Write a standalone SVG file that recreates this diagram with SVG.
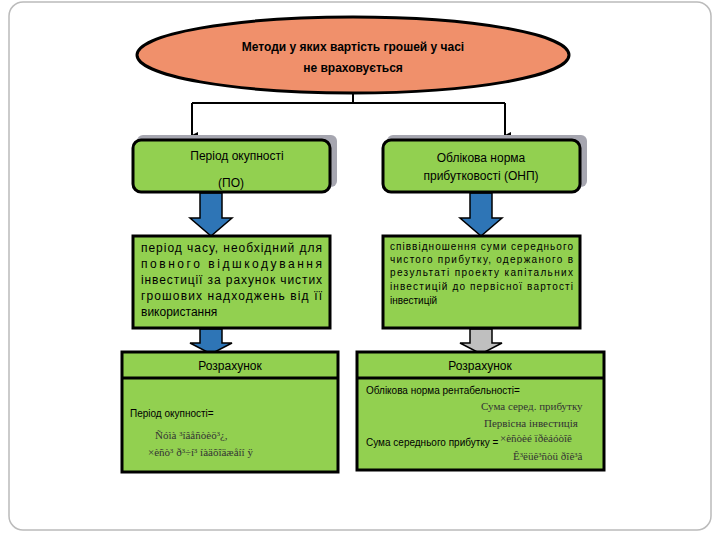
<svg xmlns="http://www.w3.org/2000/svg" width="720" height="540" viewBox="0 0 720 540">
<defs>
<marker id="ah" markerWidth="8" markerHeight="8" refX="4" refY="6" orient="auto" markerUnits="userSpaceOnUse"><path d="M0,0 L8,0 L4,8 z" fill="#000"/></marker>
<style>
.box{fill:#92D050;stroke:#000;stroke-width:3}
.sh{fill:#A6A6B0}
.t{font-family:"Liberation Sans",Arial,sans-serif;font-size:12px;fill:#000}
.s{font-family:"Liberation Sans",Arial,sans-serif;font-size:10px;fill:#000}
.r{font-family:"Liberation Serif","Times New Roman",serif;font-size:11px;fill:#333}
</style>
</defs>
<rect width="720" height="540" fill="#fff"/>
<rect x="9" y="2" width="702" height="528" rx="14" fill="none" stroke="#bbb" stroke-width="1.5"/>
<g id="connectors" fill="none" stroke="#000" stroke-width="2">
<path d="M353,93 V103 M192,103 H505"/>
<path d="M192,103 V136" marker-end="url(#ah)"/>
<path d="M505,103 V136" marker-end="url(#ah)"/>
<path d="M200,193 V218 H190 L211,236 L232,218 H222 V193 Z" fill="#2E75B6" stroke="#000" stroke-width="1.5"/>
<path d="M470,193 V218 H460 L481,236 L502,218 H492 V193 Z" fill="#2E75B6" stroke="#000" stroke-width="1.5"/>
<path d="M200,329 V343 H190 L211,354 L232,343 H222 V329 Z" fill="#2E75B6" stroke="#000" stroke-width="1.5"/>
<path d="M470,329 V343 H460 L481,354 L502,343 H492 V329 Z" fill="#BFBFBF" stroke="#000" stroke-width="1.5"/>
</g>
<g id="top">
<ellipse cx="353" cy="55" rx="216" ry="38" fill="#F0906B" stroke="#000" stroke-width="3"/>
<text x="353" y="51" text-anchor="middle" class="t" font-weight="bold" font-size="13">Методи у яких  вартість грошей у часі</text>
<text x="353" y="72" text-anchor="middle" class="t" font-weight="bold" font-size="13">не враховується</text>
</g>
<g id="n1">
<rect x="137" y="135" width="200" height="52" rx="6" class="sh"/>
<rect x="133" y="140" width="197" height="52" rx="8" class="box"/>
<text x="237" y="160" text-anchor="middle" class="t">Період окупності</text>
<text x="231" y="187" text-anchor="middle" class="t">(ПО)</text>
</g>
<g id="n2">
<rect x="387" y="135" width="200" height="52" rx="6" class="sh"/>
<rect x="383" y="140" width="197" height="52" rx="8" class="box"/>
<text x="481" y="162" text-anchor="middle" class="t">Облікова норма</text>
<text x="481" y="180" text-anchor="middle" class="t">прибутковості (ОНП)</text>
</g>
<g id="n3">
<rect x="133" y="236" width="197" height="92" class="box"/>
<text class="t" font-size="11.5"><tspan x="141" y="252" textLength="181" lengthAdjust="spacing">період  часу,  необхідний  для</tspan><tspan x="141" y="268" textLength="181" lengthAdjust="spacing">повного          відшкодування</tspan><tspan x="141" y="284" textLength="181" lengthAdjust="spacing">інвестиції за рахунок чистих</tspan><tspan x="141" y="300" textLength="181" lengthAdjust="spacing">грошових надходжень від її</tspan><tspan x="141" y="316">використання</tspan></text>
</g>
<g id="n4">
<rect x="383" y="236" width="197" height="92" class="box"/>
<text class="s" font-size="9"><tspan x="390" y="250" textLength="183" lengthAdjust="spacing">співвідношення    суми    середнього</tspan><tspan x="390" y="263" textLength="183" lengthAdjust="spacing">чистого  прибутку,  одержаного  в</tspan><tspan x="390" y="276" textLength="183" lengthAdjust="spacing">результаті   проекту   капітальних</tspan><tspan x="390" y="290" textLength="183" lengthAdjust="spacing">інвестицій  до  первісної  вартості</tspan><tspan x="390" y="304">інвестицій</tspan></text>
</g>
<g id="n5">
<rect x="122" y="352" width="216" height="120" class="box"/>
<line x1="122" y1="378" x2="338" y2="378" stroke="#000" stroke-width="3"/>
<text x="230" y="370" text-anchor="middle" class="t">Розрахунок</text>
<text x="130" y="417" class="s">Період окупності=</text>
<text x="155" y="439" class="r">Ñóìà  ³íâåñòèö³¿,</text>
<text x="148" y="456" class="r">×èñò³ ð³÷í³  íàäõîäæåíí      ÿ</text>
</g>
<g id="n6">
<rect x="357" y="352" width="247" height="118" class="box"/>
<line x1="357" y1="378" x2="604" y2="378" stroke="#000" stroke-width="3"/>
<text x="480" y="370" text-anchor="middle" class="t">Розрахунок</text>
<text x="366" y="394" class="s">Облікова норма рентабельності=</text>
<text x="481" y="410" class="r">Сума серед. прибутку</text>
<text x="484" y="427" class="r">Первісна інвестиція</text>
<text x="366" y="446" class="s">Сума середнього прибутку =</text>
<text x="500" y="442" class="r">×èñòèé  ïðèáóòîê</text>
<text x="513" y="460" class="r">Ê³ëüê³ñòü ðîê³â</text>
</g>
</svg>
